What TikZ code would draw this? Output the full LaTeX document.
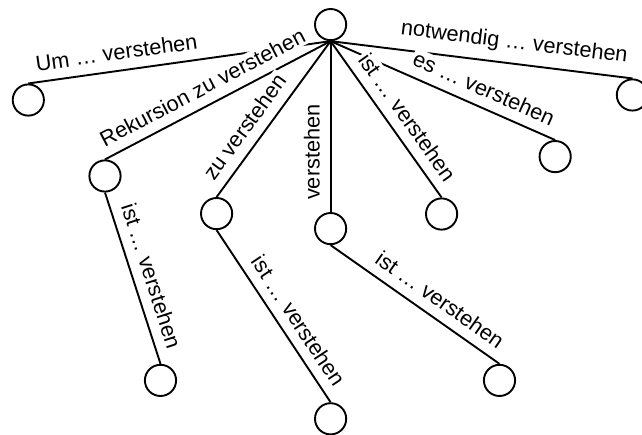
\documentclass[tikz,border=0pt]{standalone}
\usepackage{fontspec}
\setmainfont{Liberation Sans}
\begin{document}
\begin{tikzpicture}[scale=1.0,
    vertex/.style={circle,draw,line width=0.9pt,minimum size=0.52cm,inner sep=0pt},
    lbl/.style={sloped,above=3.6pt,fill=white,inner sep=1pt,font=\fontsize{10.3}{12}\selectfont}]
    \useasboundingbox (0,0) rectangle (10.7,-7.25);
    \node[vertex] (root) at (5.51,-0.41) {};
    \node[vertex] (um) at (0.472,-1.667) {};
    \node[vertex] (rek) at (1.75,-2.933) {};
    \node[vertex] (zu) at (3.61,-3.56) {};
    \node[vertex] (verst) at (5.51,-3.81) {};
    \node[vertex] (ist) at (7.36,-3.567) {};
    \node[vertex] (es) at (9.253,-2.61) {};
    \node[vertex] (notw) at (10.54,-1.583) {};
    \node[vertex] (rekist) at (2.675,-6.34) {};
    \node[vertex] (zuist) at (5.51,-6.98) {};
    \node[vertex] (verstist) at (8.325,-6.34) {};
    % first level, drawn in this order so that the filled labels cut the lines behind them
    \draw[line width=0.9pt](root.south)--(um.north) node[lbl,pos=0.70]{Um … verstehen};
    \draw[line width=0.9pt](root.south)--(rek.north) node[lbl,pos=0.53]{Rekursion zu verstehen};
    \draw[line width=0.9pt](root.south)--(zu.north) node[lbl,pos=0.62]{zu verstehen};
    \draw[line width=0.9pt](verst.north)--(root.south) node[lbl,pos=0.35]{verstehen};
    \draw[line width=0.9pt](root.south)--(notw.north) node[lbl,pos=0.60]{notwendig … verstehen};
    \draw[line width=0.9pt](root.south)--(es.north) node[lbl,pos=0.65]{es … verstehen};
    \draw[line width=0.9pt](root.south)--(ist.north) node[lbl,pos=0.555]{ist … verstehen};
    % second level
    \draw[line width=0.9pt](rek.south)--(rekist.north) node[lbl,pos=0.52]{ist … verstehen};
    \draw[line width=0.9pt](zu.south)--(zuist.north) node[lbl,pos=0.585]{ist … verstehen};
    \draw[line width=0.9pt](verst.south)--(verstist.north) node[lbl,pos=0.585]{ist … verstehen};
  \end{tikzpicture}
\end{document}
